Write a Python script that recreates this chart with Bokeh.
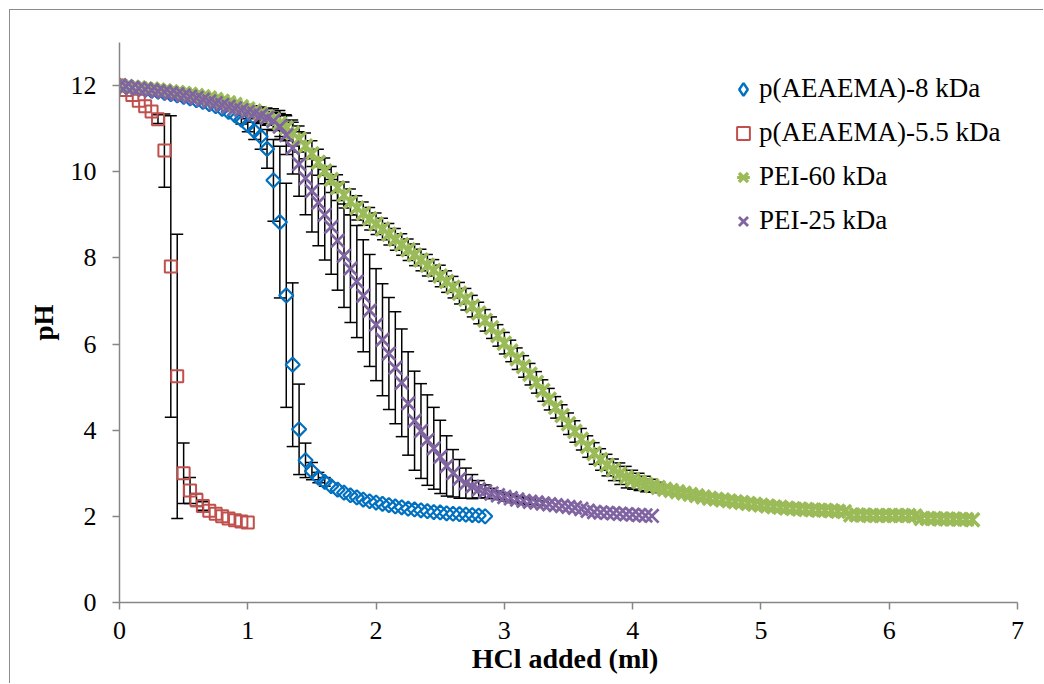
import math
from bokeh.plotting import figure
from bokeh.models import (ColumnDataSource, Whisker, TeeHead, FixedTicker, Range1d,
                          Legend, LegendItem)
from bokeh.embed import file_html
from bokeh.resources import INLINE

FONT = "Liberation Serif"
BLUE, RED, GREEN, PURPLE = "#0070C0", "#C0504D", "#9BBB59", "#8064A2"

x_ticks = [0, 1, 2, 3, 4, 5, 6, 7]
y_ticks = [0, 2, 4, 6, 8, 10, 12]
labels = ["p(AEAEMA)-8 kDa", "p(AEAEMA)-5.5 kDa", "PEI-60 kDa", "PEI-25 kDa"]

# p(AEAEMA)-8 kDa
blue_x = [0.00, 0.05, 0.10, 0.15, 0.20, 0.25, 0.30, 0.35, 0.40, 0.45,
          0.50, 0.55, 0.60, 0.65, 0.70, 0.75, 0.80, 0.85, 0.90, 0.95,
          1.00, 1.05, 1.10, 1.15, 1.20, 1.25, 1.30, 1.35, 1.40, 1.45,
          1.50, 1.55, 1.60, 1.65, 1.70, 1.75, 1.80, 1.85, 1.90, 1.95,
          2.00, 2.05, 2.10, 2.15, 2.20, 2.25, 2.30, 2.35, 2.40, 2.45,
          2.50, 2.55, 2.60, 2.65, 2.70, 2.75, 2.80, 2.85]
blue_y = [12.00, 11.97, 11.95, 11.93, 11.91, 11.88, 11.86, 11.83, 11.80, 11.77,
          11.74, 11.70, 11.66, 11.62, 11.57, 11.52, 11.46, 11.39, 11.31, 11.21,
          11.08, 10.95, 10.82, 10.53, 9.80, 8.83, 7.13, 5.52, 4.02, 3.30,
          3.05, 2.90, 2.80, 2.70, 2.62, 2.55, 2.49, 2.44, 2.39, 2.35,
          2.32, 2.29, 2.26, 2.23, 2.21, 2.18, 2.16, 2.14, 2.12, 2.10,
          2.09, 2.07, 2.06, 2.05, 2.04, 2.03, 2.02, 2.00]
blue_err = [0, 0, 0, 0, 0, 0, 0, 0, 0, 0,
            0, 0, 0, 0, 0, 0, 0, 0, 0, 0.10,
            0.15, 0.20, 0.30, 0.45, 0.95, 1.76, 2.60, 1.90, 1.05, 0.40,
            0.20, 0.12, 0.10, 0, 0, 0, 0, 0, 0, 0,
            0, 0, 0, 0, 0, 0, 0, 0, 0, 0,
            0, 0, 0, 0, 0, 0, 0, 0]

# p(AEAEMA)-5.5 kDa
red_x = [0.00, 0.05, 0.10, 0.15, 0.20, 0.25, 0.30, 0.35, 0.40, 0.45,
         0.50, 0.55, 0.60, 0.65, 0.70, 0.75, 0.80, 0.85, 0.90, 0.95, 1.00]
red_y = [12.00, 11.90, 11.78, 11.65, 11.52, 11.40, 11.22, 10.49, 7.80, 5.25,
         3.00, 2.60, 2.38, 2.24, 2.13, 2.06, 2.00, 1.95, 1.91, 1.88, 1.86]
red_err = [0, 0, 0, 0, 0, 0, 0.10, 0.85, 3.50, 3.30,
           0.70, 0.30, 0.15, 0.10, 0, 0, 0, 0, 0, 0, 0]

# PEI-60 kDa
green_x = [0.00, 0.05, 0.10, 0.15, 0.20, 0.25, 0.30, 0.35, 0.40, 0.45,
           0.50, 0.55, 0.60, 0.65, 0.70, 0.75, 0.80, 0.85, 0.90, 0.95,
           1.00, 1.05, 1.10, 1.15, 1.20, 1.25, 1.30, 1.35, 1.40, 1.45,
           1.50, 1.55, 1.60, 1.65, 1.70, 1.75, 1.80, 1.85, 1.90, 1.95,
           2.00, 2.05, 2.10, 2.15, 2.20, 2.25, 2.30, 2.35, 2.40, 2.45,
           2.50, 2.55, 2.60, 2.65, 2.70, 2.75, 2.80, 2.85, 2.90, 2.95,
           3.00, 3.05, 3.10, 3.15, 3.20, 3.25, 3.30, 3.35, 3.40, 3.45,
           3.50, 3.55, 3.60, 3.65, 3.70, 3.75, 3.80, 3.85, 3.90, 3.95,
           4.00, 4.05, 4.10, 4.15, 4.20, 4.25, 4.30, 4.35, 4.40, 4.45,
           4.50, 4.55, 4.60, 4.65, 4.70, 4.75, 4.80, 4.85, 4.90, 4.95,
           5.00, 5.05, 5.10, 5.15, 5.20, 5.25, 5.30, 5.35, 5.40, 5.45,
           5.50, 5.55, 5.60, 5.65, 5.70, 5.75, 5.80, 5.85, 5.90, 5.95,
           6.00, 6.05, 6.10, 6.15, 6.20, 6.25, 6.30, 6.35, 6.40, 6.45,
           6.50, 6.55, 6.60, 6.65]
green_y = [12.00, 11.98, 11.96, 11.95, 11.93, 11.92, 11.90, 11.88, 11.86, 11.84,
           11.82, 11.80, 11.77, 11.74, 11.71, 11.68, 11.64, 11.60, 11.56, 11.51,
           11.46, 11.41, 11.35, 11.28, 11.21, 11.12, 11.02, 10.90, 10.76, 10.60,
           10.42, 10.22, 10.02, 9.82, 9.63, 9.46, 9.30, 9.16, 9.03, 8.91,
           8.79, 8.67, 8.55, 8.43, 8.31, 8.19, 8.07, 7.95, 7.83, 7.71,
           7.58, 7.45, 7.32, 7.18, 7.04, 6.88, 6.72, 6.55, 6.38, 6.20,
           6.02, 5.84, 5.66, 5.48, 5.30, 5.11, 4.92, 4.72, 4.53, 4.34,
           4.15, 3.97, 3.79, 3.62, 3.46, 3.32, 3.19, 3.08, 2.99, 2.91,
           2.85, 2.80, 2.75, 2.71, 2.67, 2.63, 2.60, 2.57, 2.54, 2.51,
           2.48, 2.45, 2.42, 2.40, 2.38, 2.36, 2.34, 2.32, 2.30, 2.28,
           2.26, 2.24, 2.22, 2.21, 2.19, 2.18, 2.17, 2.16, 2.15, 2.14,
           2.14, 2.13, 2.12, 2.11, 2.03, 2.03, 2.03, 2.02, 2.02, 2.02,
           2.02, 2.02, 2.02, 2.02, 2.01, 1.95, 1.95, 1.95, 1.94, 1.94,
           1.94, 1.93, 1.93, 1.92]
green_err = [0, 0, 0, 0, 0, 0, 0, 0, 0, 0,
             0, 0, 0, 0, 0, 0, 0, 0, 0, 0,
             0.10, 0.12, 0.15, 0.20, 0.25, 0.30, 0.30, 0.30, 0.30, 0.30,
             0.30, 0.30, 0.30, 0.30, 0.30, 0.30, 0.30, 0.28, 0.27, 0.26,
             0.25, 0.25, 0.25, 0.25, 0.25, 0.25, 0.25, 0.25, 0.25, 0.25,
             0.25, 0.25, 0.25, 0.25, 0.25, 0.25, 0.25, 0.25, 0.25, 0.25,
             0.25, 0.25, 0.25, 0.25, 0.25, 0.25, 0.25, 0.25, 0.25, 0.25,
             0.25, 0.25, 0.25, 0.25, 0.25, 0.25, 0.25, 0.25, 0.25, 0.25,
             0.22, 0.20, 0.18, 0.15, 0.12, 0.10, 0.08, 0.05, 0.05, 0.05,
             0.05, 0.05, 0, 0, 0, 0, 0, 0, 0, 0,
             0, 0, 0, 0, 0, 0, 0, 0, 0, 0,
             0, 0, 0, 0, 0, 0, 0, 0, 0, 0,
             0, 0, 0, 0, 0, 0, 0, 0, 0, 0,
             0, 0, 0, 0]

# PEI-25 kDa
purple_x = [0.00, 0.05, 0.10, 0.15, 0.20, 0.25, 0.30, 0.35, 0.40, 0.45,
            0.50, 0.55, 0.60, 0.65, 0.70, 0.75, 0.80, 0.85, 0.90, 0.95,
            1.00, 1.05, 1.10, 1.15, 1.20, 1.25, 1.30, 1.35, 1.40, 1.45,
            1.50, 1.55, 1.60, 1.65, 1.70, 1.75, 1.80, 1.85, 1.90, 1.95,
            2.00, 2.05, 2.10, 2.15, 2.20, 2.25, 2.30, 2.35, 2.40, 2.45,
            2.50, 2.55, 2.60, 2.65, 2.70, 2.75, 2.80, 2.85, 2.90, 2.95,
            3.00, 3.05, 3.10, 3.15, 3.20, 3.25, 3.30, 3.35, 3.40, 3.45,
            3.50, 3.55, 3.60, 3.65, 3.70, 3.75, 3.80, 3.85, 3.90, 3.95,
            4.00, 4.05, 4.10, 4.15]
purple_y = [12.00, 11.98, 11.95, 11.93, 11.91, 11.89, 11.87, 11.85, 11.82, 11.80,
            11.77, 11.74, 11.71, 11.67, 11.63, 11.59, 11.55, 11.51, 11.47, 11.43,
            11.39, 11.35, 11.30, 11.25, 11.18, 11.05, 10.85, 10.55, 10.18, 9.85,
            9.55, 9.28, 9.00, 8.72, 8.40, 8.05, 7.75, 7.45, 7.12, 6.78,
            6.45, 6.10, 5.78, 5.45, 5.10, 4.62, 4.22, 3.98, 3.77, 3.58,
            3.38, 3.17, 3.00, 2.87, 2.77, 2.69, 2.63, 2.58, 2.53, 2.49,
            2.45, 2.42, 2.39, 2.36, 2.34, 2.32, 2.30, 2.28, 2.26, 2.24,
            2.22, 2.20, 2.17, 2.13, 2.10, 2.09, 2.08, 2.07, 2.06, 2.05,
            2.04, 2.03, 2.02, 2.01]
purple_err = [0, 0, 0, 0, 0, 0, 0, 0, 0, 0,
              0, 0, 0, 0, 0, 0, 0, 0, 0.05, 0.05,
              0.08, 0.10, 0.12, 0.15, 0.20, 0.30, 0.45, 0.60, 0.75, 0.85,
              0.95, 1.00, 1.05, 1.10, 1.15, 1.20, 1.25, 1.30, 1.30, 1.30,
              1.30, 1.30, 1.30, 1.30, 1.25, 1.20, 1.15, 1.10, 1.05, 0.95,
              0.85, 0.70, 0.55, 0.45, 0.35, 0.28, 0.20, 0.15, 0.12, 0.10,
              0.10, 0.10, 0.08, 0.08, 0.06, 0.05, 0.05, 0, 0, 0,
              0, 0, 0, 0, 0, 0, 0, 0, 0, 0,
              0, 0, 0, 0]

p = figure(width=1034, height=674, output_backend="svg", toolbar_location=None,
           x_range=Range1d(0, 7), y_range=Range1d(0, 13),
           min_border_left=109, min_border_right=27, min_border_top=32, min_border_bottom=82)
p.styles = {"margin-left": "9px", "margin-top": "9px",
            "border-left": "1px solid #8c8c8c", "border-top": "1px solid #8c8c8c"}
p.outline_line_color = None
p.xgrid.visible = False
p.ygrid.visible = False

for ax in (p.xaxis[0], p.yaxis[0]):
    ax.axis_line_color = "#868686"
    ax.axis_line_width = 1.5
    ax.major_tick_line_color = "#868686"
    ax.major_tick_line_width = 1.5
    ax.major_tick_out = 7
    ax.major_tick_in = 0
    ax.minor_tick_line_color = None
    ax.major_label_text_font = FONT
    ax.major_label_text_font_size = "26px"
    ax.major_label_text_color = "black"
    ax.axis_label_text_font = FONT
    ax.axis_label_text_font_style = "bold"
    ax.axis_label_text_color = "black"

p.xaxis.axis_label_text_font_size = "28px"
p.yaxis.axis_label_text_font_size = "27px"
p.xaxis.ticker = FixedTicker(ticks=x_ticks)
p.yaxis.ticker = FixedTicker(ticks=y_ticks)
p.xaxis.axis_label = "HCl  added (ml)"
p.yaxis.axis_label = "pH"
p.xaxis.major_label_standoff = 12
p.xaxis.axis_label_standoff = 1
p.yaxis.major_label_standoff = 16
p.yaxis.axis_label_standoff = 9


def errbars(xs, ys, es, cap):
    b, u, l = [], [], []
    for x, y, e in zip(xs, ys, es):
        if e > 0:
            b.append(x)
            u.append(y + e)
            l.append(y - e)
    src = ColumnDataSource(dict(base=b, upper=u, lower=l))
    w = Whisker(source=src, base="base", upper="upper", lower="lower", dimension="height",
                line_color="black", line_width=1.5, level="underlay",
                upper_head=TeeHead(size=cap, line_color="black", line_width=1.5),
                lower_head=TeeHead(size=cap, line_color="black", line_width=1.5))
    p.add_layout(w)


errbars(blue_x, blue_y, blue_err, 12)
errbars(red_x, red_y, red_err, 12)
errbars(green_x, green_y, green_err, 11)
errbars(purple_x, purple_y, purple_err, 12)

r_blue = p.scatter(blue_x, blue_y, marker="square", angle=math.pi / 4, size=10,
                   line_color=BLUE, line_width=2.2, fill_color=None)
# same series drawn as a diamond only for the legend key (hidden in the plot)
r_blue_key = p.scatter(blue_x, blue_y, marker="diamond", size=12,
                       line_color=BLUE, line_width=2.5, fill_color=None, visible=False)
r_red = p.scatter(red_x, red_y, marker="square", size=12,
                  line_color=RED, line_width=2, fill_color=None)
r_green1 = p.scatter(green_x, green_y, marker="x", size=19, line_color=GREEN, line_width=3.5)
r_green2 = p.scatter(green_x, green_y, marker="dash", angle=math.pi / 2, size=13,
                     line_color=GREEN, line_width=3)
r_purple = p.scatter(purple_x, purple_y, marker="x", size=19, line_color=PURPLE, line_width=2.8)

legend = Legend(items=[
    LegendItem(label=labels[0], renderers=[r_blue_key]),
    LegendItem(label=labels[1], renderers=[r_red]),
    LegendItem(label=labels[2], renderers=[r_green1, r_green2]),
    LegendItem(label=labels[3], renderers=[r_purple]),
], location=(608, 359.5))
legend.glyph_width = 32
legend.glyph_height = 44
legend.label_height = 44
legend.label_standoff = 0
legend.spacing = 0
legend.padding = 0
legend.margin = 0
legend.border_line_color = None
legend.background_fill_alpha = 0
legend.inactive_fill_alpha = 0
legend.label_text_font = FONT
legend.label_text_font_size = "27px"
legend.label_text_color = "black"
p.add_layout(legend)

open("out.html", "w").write(file_html(p, INLINE))
